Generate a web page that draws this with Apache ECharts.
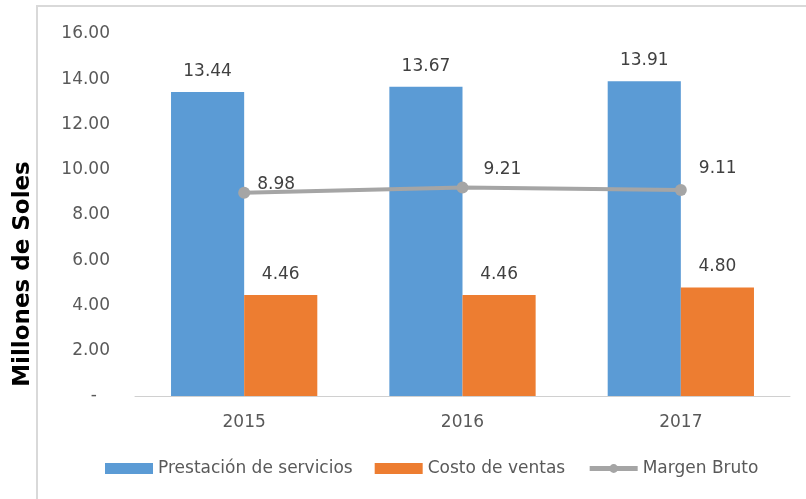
<!DOCTYPE html>
<html>
<head>
<meta charset="utf-8">
<script src="https://cdn.jsdelivr.net/npm/echarts@6/dist/echarts.min.js"></script>
<style>html,body{margin:0;padding:0;background:#fff;}#c{width:806px;height:499px;}</style>
</head>
<body>
<div id="c"></div>
<script>
const categories = ['2015', '2016', '2017'];
const prestacion = [13.44, 13.67, 13.91];
const costo = [4.46, 4.46, 4.80];
const margen = [8.98, 9.21, 9.11];
const seriesNames = ['Prestación de servicios', 'Costo de ventas', 'Margen Bruto'];
const yTicks = [0, 2, 4, 6, 8, 10, 12, 14, 16];
const yTitle = 'Millones de Soles';

const FONT = '"DejaVu Sans", sans-serif';
const lineLabelOffsets = [[2, -8], [10, -18], [7, -21]];

const chart = echarts.init(document.getElementById('c'), null, {renderer: 'canvas'});
chart.setOption({
  animation: false,
  textStyle: {fontFamily: FONT},
  graphic: [
    {type: 'rect', shape: {x: 37, y: 6, width: 820, height: 600},
     style: {fill: 'none', stroke: '#d9d9d9', lineWidth: 2}, silent: true},
    {type: 'text', x: 23, y: 274, rotation: Math.PI / 2,
     style: {text: yTitle, font: 'bold 23px "DejaVu Sans", sans-serif', fill: '#000',
       textAlign: 'center', textVerticalAlign: 'middle'}}
  ],
  grid: {left: 135, right: 16, top: 34, bottom: 103, containLabel: false},
  legend: {
    bottom: 17, left: 100,
    itemWidth: 48, itemHeight: 11, itemGap: 22,
    textStyle: {fontFamily: FONT, fontSize: 17, color: '#595959'},
    data: [
      {name: seriesNames[0], icon: 'rect'},
      {name: seriesNames[1], icon: 'rect'},
      {name: seriesNames[2], lineStyle: {width: 5}}
    ]
  },
  xAxis: {
    type: 'category', data: categories,
    axisLine: {lineStyle: {color: '#d0d0d0', width: 1}},
    axisTick: {show: false},
    axisLabel: {fontFamily: FONT, fontSize: 17, color: '#595959', margin: 18}
  },
  yAxis: {
    type: 'value', min: yTicks[0], max: yTicks[yTicks.length - 1], interval: 2,
    axisLine: {show: false}, axisTick: {show: false}, splitLine: {show: false},
    axisLabel: {
      fontFamily: FONT, fontSize: 17, color: '#595959', margin: 25,
      formatter: v => v === 0 ? '{d|-}' : v.toFixed(2),
      rich: {d: {fontFamily: FONT, fontSize: 17, color: '#595959', padding: [0, 13, 0, 0]}}
    }
  },
  series: [
    {name: seriesNames[0], type: 'bar', data: prestacion, barGap: '0%', barCategoryGap: '33%',
     itemStyle: {color: '#5B9BD5'},
     label: {show: true, position: 'top', distance: 12, fontFamily: FONT, fontSize: 17, color: '#404040',
       formatter: p => p.value.toFixed(2)}},
    {name: seriesNames[1], type: 'bar', data: costo,
     itemStyle: {color: '#ED7D31'},
     label: {show: true, position: 'top', distance: 12, fontFamily: FONT, fontSize: 17, color: '#404040',
       formatter: p => p.value.toFixed(2)}},
    {name: seriesNames[2], type: 'line', data: margen.map((v, i) => ({
        value: v, label: {offset: lineLabelOffsets[i]}})),
     symbol: 'circle', symbolSize: 12,
     lineStyle: {color: '#A5A5A5', width: 4}, itemStyle: {color: '#A5A5A5'},
     label: {show: true, position: 'right', distance: 5, fontFamily: FONT, fontSize: 17, color: '#404040',
       formatter: p => p.value.toFixed(2)}}
  ]
});
</script>
</body>
</html>
